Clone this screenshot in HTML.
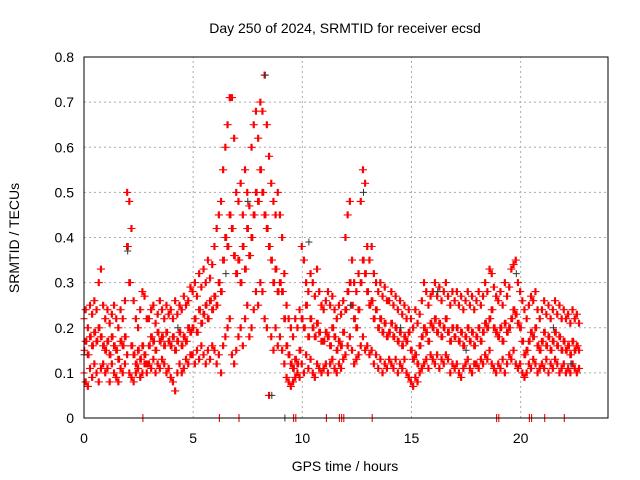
<!DOCTYPE html>
<html><head><meta charset="utf-8"><style>
body{margin:0;background:#fff}
svg{display:block;font-family:"Liberation Sans",sans-serif}
</style></head><body>
<svg id="chart" width="640" height="480">
<text x="345" y="33" font-size="14" text-anchor="middle">Day 250 of 2024, SRMTID for receiver ecsd</text>
<text transform="translate(19,238) rotate(-90)" font-size="14" text-anchor="middle">SRMTID / TECUs</text>
<text x="345" y="471" font-size="14" text-anchor="middle">GPS time / hours</text>
<g id="grid"></g><g id="ticks"></g><g id="marks"></g>
<rect x="84" y="57" width="524" height="361" fill="none" stroke="#000" stroke-width="1"/>
</svg>
<script>
const xTicks=[0,5,10,15,20];
const yTicks=[0,0.1,0.2,0.3,0.4,0.5,0.6,0.7,0.8];
const step=0.1;
const hiVals=[.22,.24,.20,.25,.23,.26,.24,.30,.33,.25,.22,.24,.21,.23,.25,.22,.20,.24,.22,.26,.50,.48,.42,.26,.22,.20,.24,.28,.27,.22,.22,.24,.25,.21,.23,.26,.24,.22,.25,.23,.24,.22,.26,.23,.25,.24,.27,.25,.26,.29,.28,.30,.27,.32,.29,.33,.30,.35,.31,.34,.38,.42,.45,.48,.55,.60,.65,.71,.71,.62,.50,.48,.52,.45,.55,.50,.47,.60,.65,.68,.62,.70,.68,.76,.65,.58,.52,.48,.45,.50,.45,.40,.32,.25,.22,.20,.18,.22,.20,.24,.38,.35,.30,.28,.32,.30,.27,.33,.28,.25,.24,.26,.28,.25,.27,.24,.22,.25,.23,.26,.40,.45,.48,.35,.30,.28,.32,.48,.55,.52,.38,.35,.38,.32,.30,.28,.30,.27,.29,.26,.26,.28,.25,.27,.24,.26,.23,.25,.22,.24,.22,.20,.24,.21,.23,.26,.30,.28,.25,.27,.28,.30,.27,.29,.26,.28,.30,.27,.25,.28,.26,.28,.25,.27,.24,.26,.28,.25,.27,.24,.26,.28,.25,.27,.30,.28,.33,.32,.29,.27,.26,.28,.25,.30,.27,.29,.33,.34,.35,.30,.28,.26,.24,.22,.25,.27,.26,.28,.24,.22,.24,.26,.23,.25,.22,.24,.26,.23,.25,.22,.24,.22,.23,.21,.24,.22,.23,.21];
const midVals=[.15,.17,.14,.18,.16,.19,.17,.20,.18,.16,.15,.17,.14,.18,.16,.15,.13,.17,.16,.18,.38,.30,.16,.14,.12,.15,.13,.16,.14,.12,.16,.18,.17,.15,.19,.17,.18,.16,.19,.17,.16,.18,.15,.17,.19,.16,.18,.17,.20,.19,.20,.22,.19,.24,.21,.23,.25,.22,.26,.24,.27,.25,.30,.28,.35,.40,.38,.45,.42,.36,.32,.35,.30,.38,.33,.42,.36,.40,.45,.50,.48,.55,.50,.45,.42,.38,.35,.30,.33,.28,.30,.28,.22,.16,.14,.12,.11,.13,.12,.15,.22,.20,.25,.18,.22,.20,.18,.21,.19,.17,.17,.19,.18,.16,.20,.18,.15,.17,.16,.19,.24,.28,.30,.25,.22,.20,.24,.30,.35,.32,.28,.25,.26,.22,.24,.20,.22,.19,.21,.18,.19,.21,.18,.20,.17,.19,.16,.18,.17,.19,.15,.13,.14,.12,.16,.18,.20,.19,.17,.21,.20,.22,.19,.21,.18,.20,.22,.19,.17,.20,.18,.20,.17,.19,.16,.18,.20,.17,.19,.16,.18,.20,.17,.19,.21,.20,.22,.24,.20,.19,.18,.20,.17,.21,.19,.20,.22,.24,.23,.21,.20,.17,.14,.15,.17,.19,.18,.20,.16,.15,.17,.19,.16,.18,.15,.17,.19,.16,.18,.15,.17,.15,.16,.14,.17,.15,.16,.15];
const loVals=[.10,.08,.07,.11,.09,.12,.10,.08,.11,.12,.10,.11,.08,.12,.10,.09,.08,.11,.10,.12,.14,.10,.09,.08,.10,.11,.09,.10,.12,.10,.12,.11,.13,.10,.12,.11,.13,.12,.10,.11,.09,.08,.06,.10,.12,.10,.11,.13,.12,.14,.14,.12,.15,.13,.16,.14,.12,.15,.13,.16,.15,.12,.14,.10,.16,.18,.20,.22,.14,.12,.15,.18,.20,.16,.22,.25,.18,.20,.24,.28,.25,.30,.28,.22,.20,.05,.18,.15,.20,.16,.18,.15,.12,.09,.08,.07,.08,.09,.10,.09,.12,.10,.14,.11,.13,.10,.09,.12,.11,.10,.11,.12,.10,.12,.13,.11,.10,.12,.11,.13,.14,.16,.18,.15,.12,.13,.14,.16,.18,.15,.16,.14,.15,.12,.14,.11,.13,.10,.12,.11,.13,.12,.11,.13,.10,.12,.11,.13,.10,.09,.08,.07,.09,.08,.10,.11,.12,.13,.11,.14,.13,.12,.14,.11,.13,.12,.14,.13,.10,.12,.11,.12,.10,.09,.11,.12,.13,.11,.10,.12,.12,.11,.13,.12,.14,.13,.15,.12,.11,.10,.12,.11,.13,.10,.12,.14,.13,.15,.12,.11,.12,.10,.09,.10,.12,.11,.13,.12,.10,.11,.12,.11,.13,.10,.12,.11,.13,.12,.10,.11,.12,.10,.11,.10,.12,.11,.10,.11];
const blackTimes=[0,2,4.3,6.5,7.5,8.3,8.6,10.3,12.2,12.8,14.5,16.2,17.5,19.8,21.5,22.3,9.2];
const blackVals=[.14,.37,.20,.32,.48,.76,.05,.39,.25,.50,.20,.28,.15,.32,.20,.12,0];
const zeroTimes=[2.7,6.2,7.1,9.6,9.7,11.1,11.7,11.8,11.9,13.2,18.9,19.0,20.4,20.5,21.1,22.0];
const X0=84,X1=608,Y0=418,Y1=57;
const xs=t=>X0+t/24*(X1-X0), ys=v=>Y0-v/0.8*(Y0-Y1);
const NS="http://www.w3.org/2000/svg";
const mk=(tag,a,parent)=>{const e=document.createElementNS(NS,tag);for(const k in a)e.setAttribute(k,a[k]);parent.appendChild(e);return e;};
const grid=document.getElementById('grid'),ticks=document.getElementById('ticks'),marks=document.getElementById('marks');
yTicks.forEach(v=>{const y=ys(v);
 if(v>0){const g=mk('line',{x1:X0,x2:X1,y1:y,y2:y,stroke:'#aaa','stroke-dasharray':'2,3'},grid);
 
 }
 const t=mk('text',{x:X0-10,y:y+5,'font-size':14,'text-anchor':'end'},ticks);t.textContent=v===0?'0':v.toFixed(1);
 
 });
xTicks.forEach(v=>{const x=xs(v);
 if(v>0){const g=mk('line',{x1:x,x2:x,y1:Y0,y2:Y1,stroke:'#aaa','stroke-dasharray':'2,3'},grid);
 
 }
 const t=mk('text',{x:x,y:443,'font-size':14,'text-anchor':'middle'},ticks);t.textContent=v;
 
 });
function plus(x,y){return `M${(x-3.5).toFixed(1)} ${y.toFixed(1)}h7M${x.toFixed(1)} ${(y-3.5).toFixed(1)}v7`;}
let dr='';
[hiVals,midVals,loVals].forEach(arr=>arr.forEach((v,i)=>{
 dr+=plus(xs(i*step),ys(v));
 if(i<arr.length-1)dr+=plus(xs(i*step+0.05),ys(arr[i+1]));
}));
midVals.forEach((v,i)=>{if(i<midVals.length-1)dr+=plus(xs(i*step+0.03),ys(v));});
zeroTimes.forEach(t=>{dr+=`M${xs(t).toFixed(1)} ${Y0-4}v8`;});
const red=mk('path',{d:dr,stroke:'#f00','stroke-width':1.1,fill:'none'},marks);


let db='';
blackTimes.forEach((t,i)=>{db+=plus(xs(t),ys(blackVals[i]));});
const blk=mk('path',{d:db,stroke:'#333','stroke-width':1,fill:'none'},marks);


</script>
</body></html>
